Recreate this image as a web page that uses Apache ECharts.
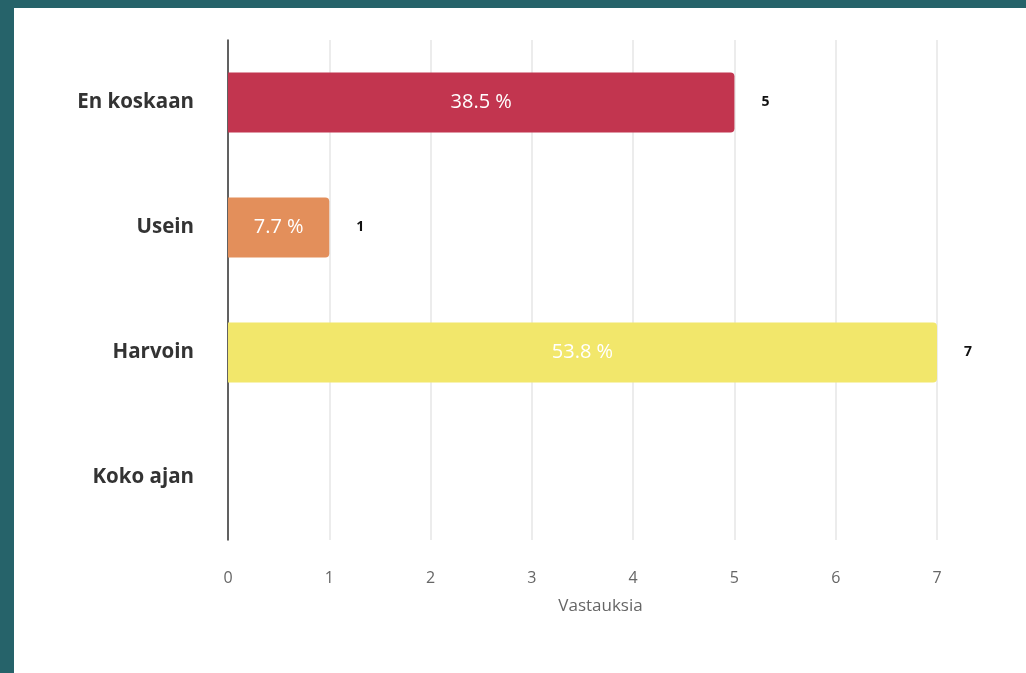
<!DOCTYPE html>
<html><head><meta charset="utf-8">
<script src="https://cdn.jsdelivr.net/npm/echarts@6/dist/echarts.min.js"></script>
<style>
html,body{margin:0;padding:0;width:1026px;height:673px;background:#26636a;overflow:hidden;}
#c{position:absolute;left:14px;top:8px;width:1012px;height:665px;background:#ffffff;}
</style></head>
<body><div id="c"></div>
<script>
const categories = ["En koskaan", "Usein", "Harvoin", "Koko ajan"];
const values = [5, 1, 7, 0];
const percents = ["38.5 %", "7.7 %", "53.8 %", ""];
const colors = ["#c2354f", "#e38f5b", "#f2e76b", "#cccccc"];
const xTicks = [0, 1, 2, 3, 4, 5, 6, 7];
const axisName = "Vastauksia";

const F = '"Open Sans", Lato, sans-serif';
const chart = echarts.init(document.getElementById('c'), null, {renderer: 'canvas'});
chart.setOption({
  animation: false,
  textStyle: {fontFamily: F},
  grid: {left: 214, top: 32, right: 89, bottom: 133, containLabel: false},
  xAxis: {
    type: 'value', min: xTicks[0], max: xTicks[xTicks.length - 1], interval: 1,
    name: axisName, nameLocation: 'middle', nameGap: 58,
    nameTextStyle: {color: '#666', fontSize: 17, fontFamily: F, padding: [0, 0, 0, 36]},
    axisLine: {show: false}, axisTick: {show: false},
    axisLabel: {color: '#666', fontSize: 16, margin: 30, fontFamily: F},
    splitLine: {lineStyle: {color: '#e6e6e6', width: 1.5}}
  },
  yAxis: {
    type: 'category', data: categories, inverse: true,
    axisLine: {show: true, lineStyle: {color: '#333', width: 1.5}},
    axisTick: {show: false},
    axisLabel: {color: '#333', fontSize: 20.5, fontWeight: 'bold', margin: 34, fontFamily: F}
  },
  series: [
    {
      type: 'bar', barWidth: 60,
      data: values.map((v, i) => ({value: v, itemStyle: {color: colors[i], borderRadius: [0, 4, 4, 0]}})),
      label: {
        show: true, position: 'inside', color: '#fff', fontSize: 20, fontFamily: F,
        formatter: p => percents[p.dataIndex]
      }
    },
    {
      type: 'bar', barWidth: 60, barGap: '-100%', silent: true,
      data: values,
      itemStyle: {color: 'rgba(0,0,0,0)'},
      label: {
        show: true, position: 'right', distance: 27, color: '#111', fontSize: 14, fontWeight: 'bold', fontFamily: F,
        formatter: p => p.value ? String(p.value) : ''
      }
    }
  ]
});
</script></body></html>
